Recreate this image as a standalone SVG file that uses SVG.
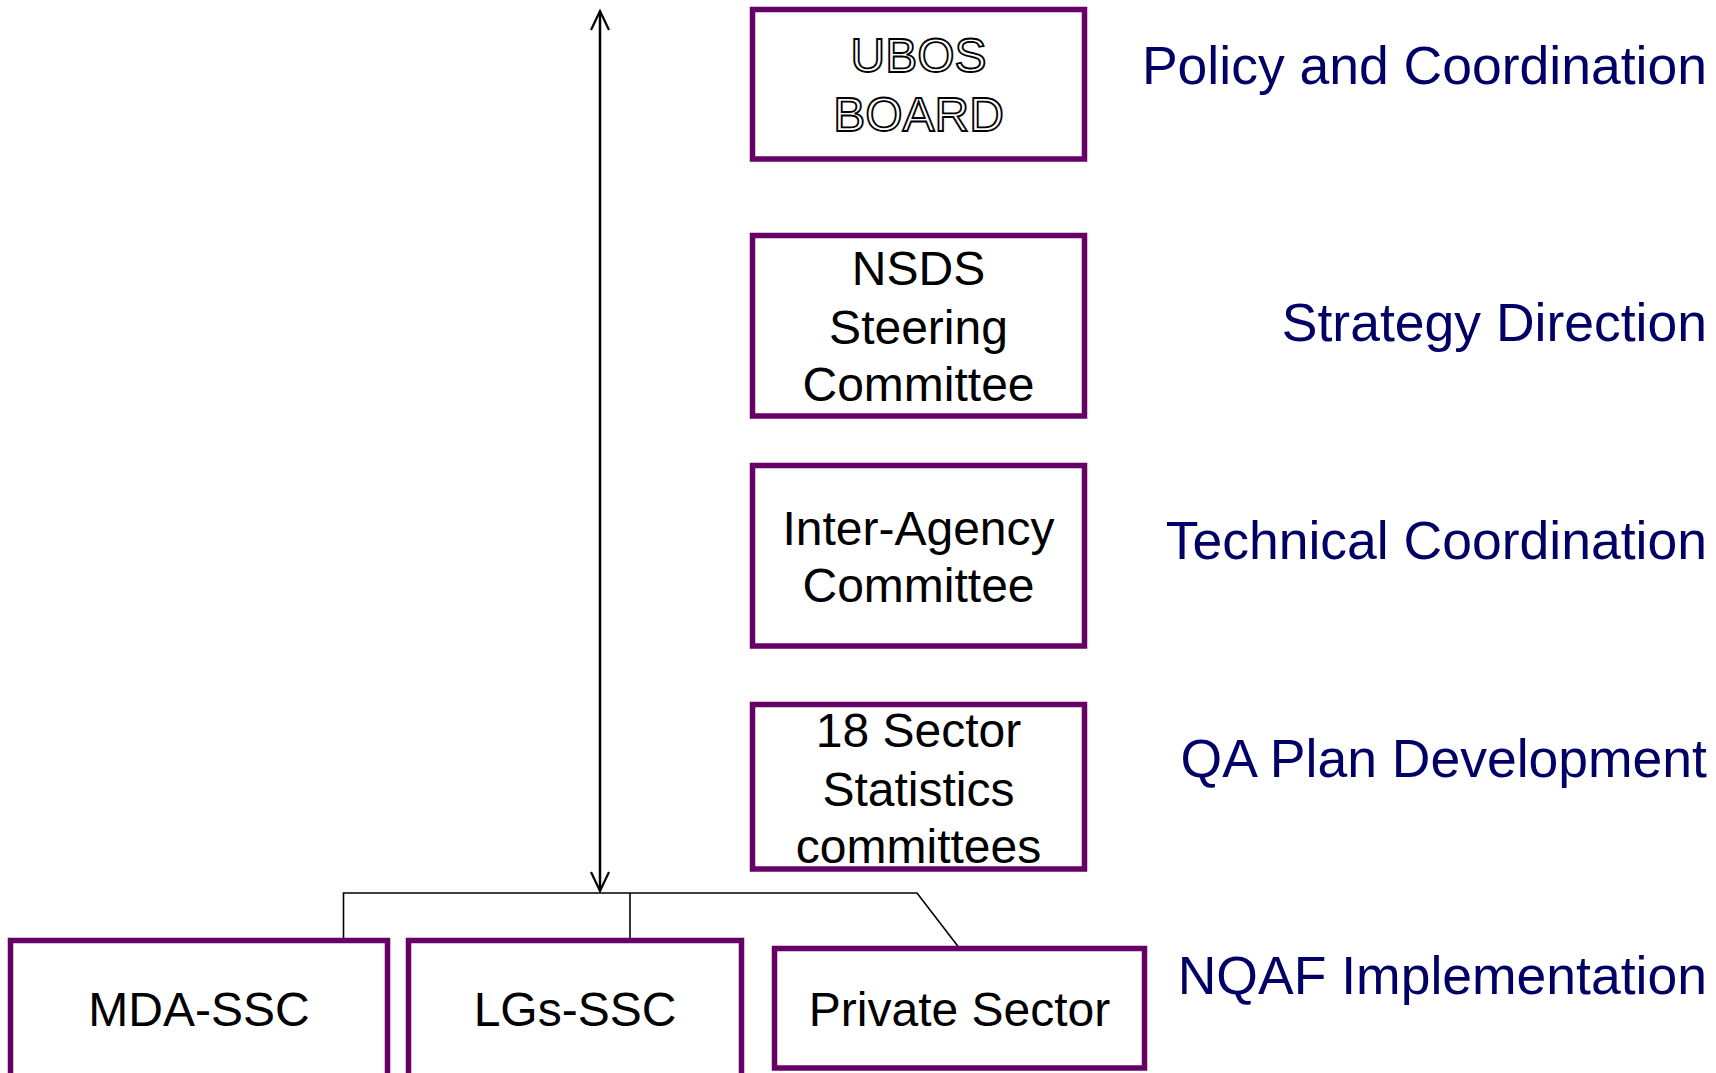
<svg xmlns="http://www.w3.org/2000/svg" width="1716" height="1073" viewBox="0 0 1716 1073">
<style>
.box{fill:#ffffff;stroke:#660066;stroke-width:5.5}
.bt{font-family:"Liberation Sans",Arial,sans-serif;font-size:48px;fill:#000000;text-anchor:middle}
.outline{fill:#ffffff;stroke:#000000;stroke-width:1.8}
.lbl{font-family:"Liberation Sans",Arial,sans-serif;font-size:53.5px;fill:#000066;text-anchor:end}
.conn{fill:none;stroke:#000000;stroke-width:1.6}
.arr{fill:none;stroke:#000000;stroke-width:2.5}
</style>
<defs>
<marker id="chev" markerUnits="userSpaceOnUse" markerWidth="24" markerHeight="24" viewBox="-20 -12 24 24" refX="0" refY="0" orient="auto-start-reverse" overflow="visible">
<path d="M -19,-9 L 0,0 L -19,9" fill="none" stroke="#000000" stroke-width="2.2"/>
</marker>
</defs>
<rect width="1716" height="1073" fill="#ffffff"/>
<g id="connectors">
<line class="arr" x1="600" y1="11" x2="600" y2="891" marker-start="url(#chev)" marker-end="url(#chev)"/>
<polyline class="conn" points="343.5,944 343.5,893 917,893 958.5,947"/>
<line class="conn" x1="630" y1="893" x2="630" y2="941"/>
</g>
<g id="ubos-board">
<rect class="box" x="752.5" y="9.5" width="332" height="149.5"/>
<text class="bt outline" x="918.5" y="72">UBOS</text>
<text class="bt outline" x="918.5" y="131">BOARD</text>
</g>
<g id="nsds-steering-committee">
<rect class="box" x="752.5" y="235.5" width="332" height="180.5"/>
<text class="bt" x="918.5" y="285">NSDS</text>
<text class="bt" x="918.5" y="344">Steering</text>
<text class="bt" x="918.5" y="401">Committee</text>
</g>
<g id="inter-agency-committee">
<rect class="box" x="752.5" y="465.5" width="332" height="180.5"/>
<text class="bt" x="918.5" y="545">Inter-Agency</text>
<text class="bt" x="918.5" y="602">Committee</text>
</g>
<g id="sector-statistics-committees">
<rect class="box" x="752.5" y="704.5" width="332" height="164.5"/>
<text class="bt" x="918.5" y="747">18 Sector</text>
<text class="bt" x="918.5" y="806">Statistics</text>
<text class="bt" x="918.5" y="863">committees</text>
</g>
<g id="mda-ssc">
<rect class="box" x="10.5" y="940.5" width="377" height="160"/>
<text class="bt" x="199" y="1026">MDA-SSC</text>
</g>
<g id="lgs-ssc">
<rect class="box" x="408.5" y="940.5" width="333" height="160"/>
<text class="bt" x="575" y="1026">LGs-SSC</text>
</g>
<g id="private-sector">
<rect class="box" x="774.5" y="948.5" width="370" height="119.5"/>
<text class="bt" x="959.5" y="1026">Private Sector</text>
</g>
<g id="level-labels">
<text class="lbl" x="1707" y="84">Policy and Coordination</text>
<text class="lbl" x="1707" y="341">Strategy Direction</text>
<text class="lbl" x="1707" y="559">Technical Coordination</text>
<text class="lbl" x="1707" y="777">QA Plan Development</text>
<text class="lbl" x="1707" y="994">NQAF Implementation</text>
</g>
</svg>
